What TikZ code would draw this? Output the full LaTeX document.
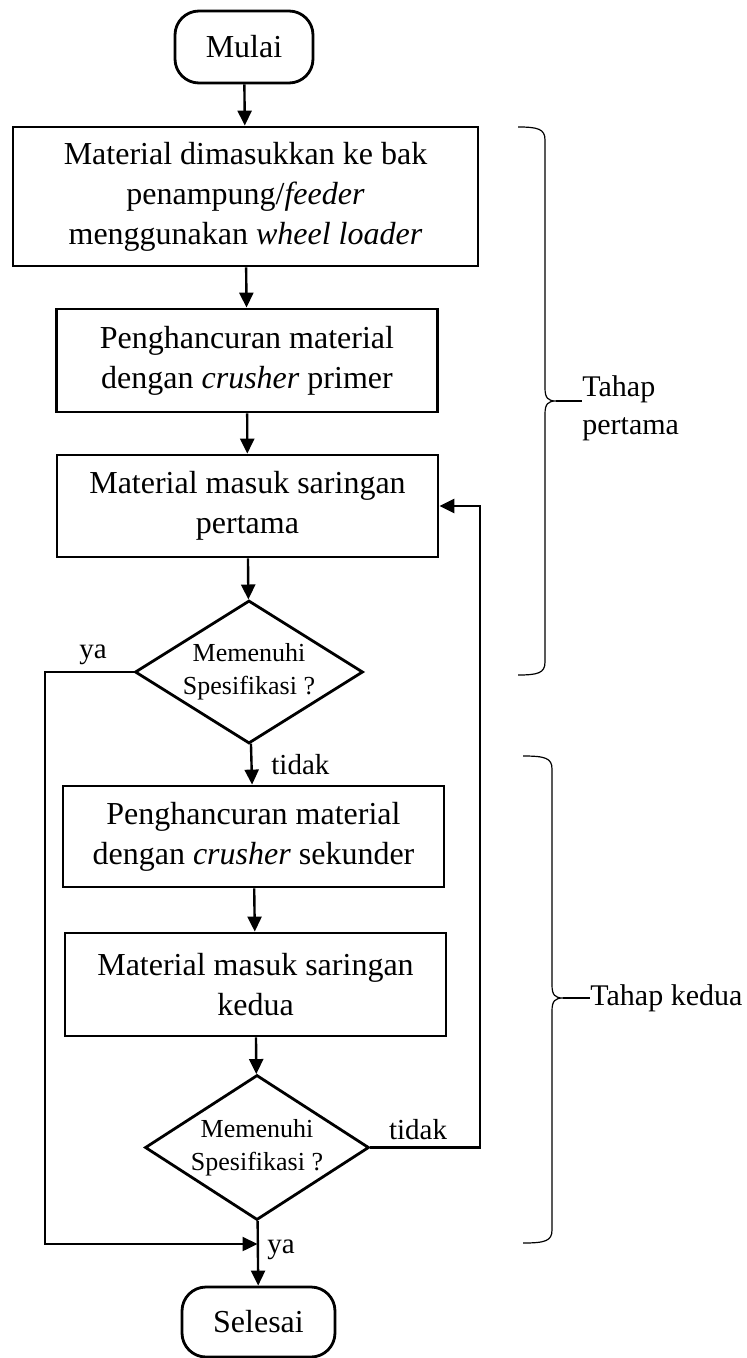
\documentclass[tikz,border=0pt]{standalone}
\usepackage{fontspec}
\setmainfont{Liberation Serif}
\usetikzlibrary{shapes.geometric,arrows.meta}

\begin{document}
\begin{tikzpicture}[
                x=0.5pt, y=-0.5pt,
                procbox/.style = {rectangle, draw, line width=1.4pt, align=center, inner sep=0pt,
                                  font=\fontsize{16}{20}\selectfont},
                termbox/.style = {rectangle, rounded corners=12pt, draw, line width=1.4pt, inner sep=0pt,
                                  font=\fontsize{16}{20}\selectfont},
                decbox/.style = {diamond, shape aspect=1.6, draw, line width=1.4pt, align=center, inner sep=0pt,
                                 font=\fontsize{13}{16.5}\selectfont},
                lbl/.style = {font=\fontsize{14.5}{18}\selectfont, inner sep=0pt},
                bracelbl/.style = {font=\fontsize{15}{19}\selectfont, inner sep=0pt, align=left, anchor=west},
                arr/.style = {line width=1.2pt, -{Triangle[length=7.5pt, width=7pt]}},
                bracel/.style = {line width=0.6pt}
        ]
        \useasboundingbox (0,0) rectangle (747,1358);

        \node[termbox, minimum width=69pt, minimum height=36pt] (mulai) at (244,47) {Mulai};
        \node[procbox, minimum width=232.5pt, minimum height=69.5pt] (feeder) at (245.5,196.5)
                {Material dimasukkan ke bak\\penampung/\textit{feeder}\\menggunakan \textit{wheel loader}};
        \node[procbox, minimum width=190.5pt, minimum height=51.5pt] (primer) at (247,360.5)
                {Penghancuran material\\dengan \textit{crusher} primer};
        \node[procbox, minimum width=190.5pt, minimum height=51pt] (saring1) at (247.5,506)
                {Material masuk saringan\\pertama};
        \node[decbox, minimum width=114pt, minimum height=71.5pt] (cek1) at (249,672)
                {Memenuhi\\Spesifikasi ?};
        \node[procbox, minimum width=190.5pt, minimum height=50.5pt] (sekunder) at (253.5,836.5)
                {Penghancuran material\\dengan \textit{crusher} sekunder};
        \node[procbox, minimum width=190.5pt, minimum height=51.5pt] (saring2) at (255.5,984.5)
                {Material masuk saringan\\kedua};
        \node[decbox, minimum width=112pt, minimum height=72.5pt] (cek2) at (257,1147.5)
                {Memenuhi\\Spesifikasi ?};
        \node[termbox, minimum width=76.5pt, minimum height=35pt] (selesai) at (258.5,1322) {Selesai};

        \coordinate (kiri) at (45,900);
        \coordinate (kanan) at (480,800);
        \coordinate (gabung) at (257.5,1244);

        \draw[arr] (mulai) -- (feeder);
        \draw[arr] (feeder) -- (primer);
        \draw[arr] (primer) -- (saring1);
        \draw[arr] (saring1) -- (cek1);
        \draw[arr] (cek1) -- (sekunder);
        \draw[arr] (sekunder) -- (saring2);
        \draw[arr] (saring2) -- (cek2);
        \draw[arr] (cek2) -- (selesai);
        \draw[arr] (cek1.west) -| (kiri) |- (gabung);
        \draw[arr] (cek2.east) -| (kanan) |- (saring1.east);

        \node[lbl] (ya1) at (93,655) {ya};
        \node[lbl, anchor=west] (tidak1) at (271,765) {tidak};
        \node[lbl, anchor=west] (ya2) at (267,1250) {ya};
        \node[lbl] (tidak2) at (418,1130) {tidak};

        \draw[bracel] (518,127) .. controls (538,127) and (545,129) .. (545,140) -- (545,388)
                .. controls (545,398) and (548,401) .. (556,401)
                .. controls (548,401) and (545,404) .. (545,414) -- (545,662)
                .. controls (545,673) and (538,675) .. (518,675);
        \coordinate (ujung1) at (556,401);
        \node[bracelbl] (tahap1) at (582,408) {Tahap\\pertama};
        \draw[bracel] (ujung1) -- (ujung1 -| tahap1.west);

        \draw[bracel] (523,756) .. controls (545,756) and (552,758) .. (552,769) -- (552,985)
                .. controls (552,995) and (555,998) .. (563,998)
                .. controls (555,998) and (552,1001) .. (552,1011) -- (552,1230)
                .. controls (552,1241) and (545,1243) .. (523,1243);
        \coordinate (ujung2) at (563,998);
        \node[bracelbl] (tahap2) at (590,998) {Tahap kedua};
        \draw[bracel] (ujung2) -- (ujung2 -| tahap2.west);
\end{tikzpicture}
\end{document}
